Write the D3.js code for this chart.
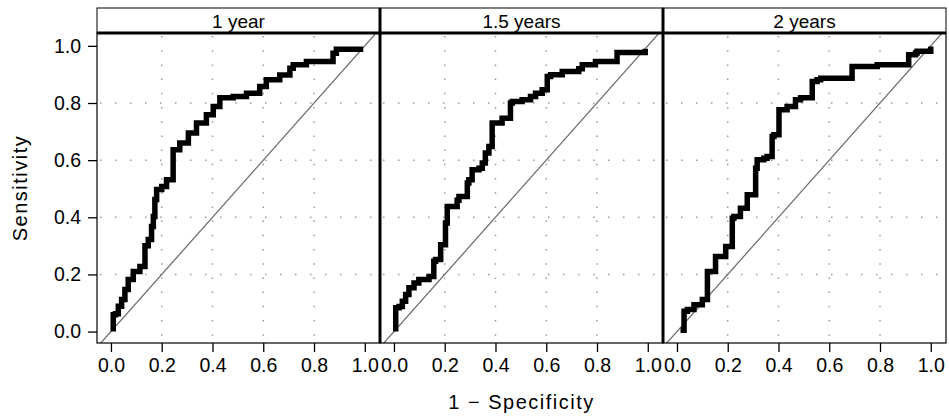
<!DOCTYPE html>
<html>
<head>
<meta charset="utf-8">
<script src="https://cdn.jsdelivr.net/npm/d3@7"></script>
<style>
  body { margin: 0; background: #fff; }
  text { font-family: "Liberation Sans", Arial, sans-serif; fill: #000; }
</style>
</head>
<body>
<div id="chart"></div>
<script>
// panels (strip labels)
var panels = ["1 year", "1.5 years", "2 years"];
var ticks = [0, 0.2, 0.4, 0.6, 0.8, 1.0];
var gridTicks = [0.2, 0.4, 0.6, 0.8];

// ROC points [1 - specificity, sensitivity]
var roc1 = [[0.009,0],[0.009,0.059],[0.018,0.062],[0.029,0.089],[0.042,0.112],[0.055,0.147],
  [0.068,0.182],[0.088,0.21],[0.114,0.228],[0.134,0.24],[0.134,0.30],[0.147,0.322],[0.16,0.368],
  [0.167,0.403],[0.173,0.462],[0.18,0.497],[0.2,0.508],[0.219,0.531],[0.245,0.543],[0.245,0.636],
  [0.271,0.66],[0.305,0.695],[0.337,0.73],[0.376,0.759],[0.403,0.788],[0.429,0.818],[0.482,0.823],
  [0.534,0.834],[0.586,0.858],[0.612,0.881],[0.665,0.898],[0.705,0.922],[0.718,0.934],[0.77,0.945],
  [0.869,0.945],[0.875,0.974],[0.888,0.988],[0.994,0.988]];

var roc2 = [[0.007,0],[0.007,0.083],[0.02,0.088],[0.033,0.106],[0.046,0.13],[0.059,0.153],
  [0.079,0.17],[0.098,0.182],[0.138,0.193],[0.157,0.211],[0.157,0.246],[0.164,0.252],[0.184,0.269],
  [0.184,0.304],[0.203,0.31],[0.203,0.38],[0.21,0.386],[0.21,0.438],[0.249,0.438],[0.249,0.46],
  [0.256,0.473],[0.289,0.485],[0.289,0.52],[0.295,0.531],[0.308,0.555],[0.308,0.566],[0.335,0.572],
  [0.348,0.59],[0.36,0.625],[0.374,0.648],[0.387,0.66],[0.387,0.73],[0.394,0.73],[0.426,0.747],
  [0.459,0.753],[0.459,0.80],[0.466,0.805],[0.505,0.811],[0.538,0.823],[0.558,0.834],[0.584,0.846],
  [0.604,0.852],[0.604,0.893],[0.617,0.899],[0.663,0.91],[0.728,0.92],[0.742,0.934],[0.794,0.945],
  [0.879,0.945],[0.879,0.977],[0.971,0.977],[0.99,0.99]];

var roc3 = [[0.014,0.005],[0.028,0.007],[0.028,0.071],[0.041,0.077],[0.067,0.094],[0.10,0.112],
  [0.12,0.118],[0.12,0.21],[0.126,0.21],[0.152,0.217],[0.152,0.263],[0.159,0.263],[0.192,0.298],
  [0.218,0.298],[0.218,0.397],[0.224,0.403],[0.25,0.432],[0.277,0.438],[0.277,0.479],[0.283,0.479],
  [0.31,0.485],[0.31,0.572],[0.316,0.601],[0.342,0.607],[0.355,0.613],[0.375,0.619],[0.375,0.683],
  [0.382,0.689],[0.402,0.695],[0.402,0.776],[0.408,0.776],[0.434,0.788],[0.467,0.794],[0.467,0.811],
  [0.487,0.818],[0.526,0.818],[0.533,0.823],[0.533,0.875],[0.552,0.881],[0.566,0.887],[0.664,0.887],
  [0.69,0.893],[0.69,0.928],[0.782,0.928],[0.789,0.934],[0.9,0.934],[0.913,0.951],[0.913,0.969],
  [0.94,0.975],[0.946,0.981],[0.999,0.981],[1.0,0.998]];

var curves = [roc1, roc2, roc3];

var width = 949, height = 416,
  left = 97, panelW = 283, stripTop = 8, stripH = 25, plotTop = 33, plotBottom = 343;

var svg = d3.select("#chart").append("svg")
  .attr("width", width).attr("height", height);

var x = d3.scaleLinear().domain([-0.055, 1.06]).range([0, panelW]);
var y = d3.scaleLinear().domain([-0.04, 1.045]).range([plotBottom, plotTop]);

svg.append("defs").append("clipPath").attr("id", "clip")
  .append("rect").attr("x", 0).attr("y", plotTop).attr("width", panelW).attr("height", plotBottom - plotTop);

var line = d3.line().x(d => x(d[0])).y(d => y(d[1])).curve(d3.curveStepAfter);

panels.forEach(function(name, i) {
  var g = svg.append("g").attr("transform", "translate(" + (left + panelW * i) + ",0)");

  // dotted grid
  g.selectAll(".vg").data(gridTicks).enter().append("line")
    .attr("x1", d => x(d)).attr("x2", d => x(d)).attr("y1", plotTop + 3).attr("y2", plotBottom - 3)
    .attr("stroke", "#999").attr("stroke-width", 1.5).attr("stroke-dasharray", "1.5 12.7");
  g.selectAll(".hg").data(gridTicks).enter().append("line")
    .attr("x1", 3).attr("x2", panelW - 3).attr("y1", d => y(d)).attr("y2", d => y(d))
    .attr("stroke", "#999").attr("stroke-width", 1.5).attr("stroke-dasharray", "1.5 13.5");

  var plot = g.append("g").attr("clip-path", "url(#clip)");
  // reference diagonal
  plot.append("line")
    .attr("x1", x(-0.1)).attr("y1", y(-0.1)).attr("x2", x(1.1)).attr("y2", y(1.1))
    .attr("stroke", "#666").attr("stroke-width", 1.2);
  // ROC curve
  plot.append("path").datum(curves[i])
    .attr("d", line).attr("fill", "none").attr("stroke", "#000")
    .attr("stroke-width", 5.5).attr("stroke-linejoin", "miter");

  // x axis
  var xa = g.append("g").attr("transform", "translate(0," + plotBottom + ")")
    .call(d3.axisBottom(x).tickValues(ticks).tickFormat(d3.format(".1f")).tickSize(9).tickPadding(6));
  xa.select(".domain").remove();
  xa.selectAll("line").attr("stroke-width", 1.3);
  xa.selectAll("text").style("font-size", "19.5px");

  // strip
  g.append("rect").attr("x", 0).attr("y", stripTop).attr("width", panelW).attr("height", stripH)
    .attr("fill", "#fff").attr("stroke", "#000").attr("stroke-width", 1);
  g.append("text").attr("x", panelW / 2).attr("y", stripTop + 20)
    .attr("text-anchor", "middle").style("font-size", "19px").text(name);

  // panel border
  g.append("rect").attr("x", 0).attr("y", plotTop).attr("width", panelW).attr("height", plotBottom - plotTop)
    .attr("fill", "none").attr("stroke", "#000").attr("stroke-width", 1.2);
});

// heavy lines: strip bottom and between panels
svg.append("line").attr("x1", left).attr("x2", left + panelW * 3).attr("y1", plotTop).attr("y2", plotTop)
  .attr("stroke", "#000").attr("stroke-width", 3);
[1, 2].forEach(function(i) {
  svg.append("line").attr("x1", left + panelW * i).attr("x2", left + panelW * i)
    .attr("y1", stripTop).attr("y2", plotBottom).attr("stroke", "#000").attr("stroke-width", 3);
});

// y axis
var ya = svg.append("g").attr("transform", "translate(" + left + ",0)")
  .call(d3.axisLeft(y).tickValues(ticks).tickFormat(d3.format(".1f")).tickSize(9).tickPadding(7));
ya.select(".domain").remove();
ya.selectAll("line").attr("stroke-width", 1.3);
ya.selectAll("text").style("font-size", "19.5px");

// axis titles
svg.append("text").attr("transform", "translate(27," + ((plotTop + plotBottom) / 2) + ") rotate(-90)")
  .attr("text-anchor", "middle").style("font-size", "20px").style("letter-spacing", "1.5px")
  .text("Sensitivity");
svg.append("text").attr("x", left + panelW * 1.5).attr("y", 409)
  .attr("text-anchor", "middle").style("font-size", "20px").style("letter-spacing", "1.5px")
  .text("1 \u2212 Specificity");
</script>
</body>
</html>
